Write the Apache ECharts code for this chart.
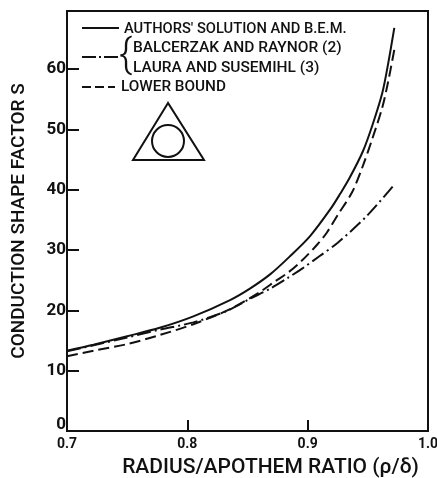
<!DOCTYPE html>
<html><head><meta charset="utf-8">
<style>html,body{margin:0;padding:0;background:#fff}#c{width:437px;height:478px}</style>
<script src="https://cdn.jsdelivr.net/npm/echarts@6/dist/echarts.min.js"></script>
</head><body><div id="c"></div>
<script>
const xTicks = [0.7, 0.8, 0.9, 1.0];
const yTicks = [0, 10, 20, 30, 40, 50, 60];
const solidX = [0.7, 0.722, 0.75, 0.777, 0.805, 0.8355, 0.852, 0.869, 0.885, 0.902, 0.919, 0.927, 0.935, 0.946, 0.954, 0.962, 0.967, 0.972];
const solidY = [13.3, 14.3, 15.7, 17.1, 19.0, 21.7, 23.6, 26.0, 28.9, 32.3, 36.8, 39.3, 42.0, 46.4, 50.8, 56.0, 61.0, 66.8];
const dashDotX = [0.7, 0.75, 0.777, 0.805, 0.833, 0.852, 0.869, 0.883, 0.896, 0.91, 0.925, 0.949, 0.971];
const dashDotY = [13.2, 15.5, 16.8, 18.0, 19.9, 21.9, 23.6, 25.3, 27.0, 29.0, 31.2, 35.6, 40.6];
const lowerX = [0.7, 0.722, 0.75, 0.777, 0.805, 0.8355, 0.86, 0.873, 0.884, 0.895, 0.908, 0.916, 0.925, 0.937, 0.946, 0.954, 0.962, 0.967, 0.972];
const lowerY = [12.4, 13.3, 14.4, 15.9, 17.7, 20.2, 23.0, 24.8, 26.3, 28.2, 30.9, 32.9, 35.8, 39.6, 44.0, 48.6, 53.6, 58.0, 63.2];
const legendNames = ["AUTHORS' SOLUTION AND B.E.M.", "BALCERZAK AND RAYNOR (2)", "LAURA AND SUSEMIHL (3)", "LOWER BOUND"];
const xTitle = "RADIUS/APOTHEM RATIO (\u03C1/\u03B4)";
const yTitle = "CONDUCTION SHAPE FACTOR S";

const ink = '#111';
const font = "Roboto,'Liberation Sans',sans-serif";
const zip = (a, b) => a.map((v, i) => [v, b[i]]);
const line = (name, xs, ys, type) => ({
  name, type: 'line', data: zip(xs, ys), smooth: 0.3, showSymbol: false, clip: false,
  lineStyle: { color: ink, width: 2, type }
});
const label = (text, x, y, size) => ({
  type: 'text', x, y,
  style: { text, fill: ink, font: `500 ${size}px ${font}`, textVerticalAlign: 'middle' }
});
const sample = (x1, x2, y, type) => ({
  type: 'line', shape: { x1, y1: y, x2, y2: y },
  style: { stroke: ink, lineWidth: 2, lineDash: type }
});

const chart = echarts.init(document.getElementById('c'), null, { renderer: 'canvas' });
chart.setOption({
  animation: false,
  backgroundColor: '#fff',
  grid: { left: 67, right: 9, top: 11, bottom: 47, outerBoundsMode: 'none', show: true, borderColor: ink, borderWidth: 2, backgroundColor: 'transparent' },
  xAxis: {
    type: 'value', min: 0.7, max: 1.0, interval: 0.1,
    name: xTitle, nameLocation: 'middle', nameGap: 26, nameMoveOverlap: false,
    nameTextStyle: { color: ink, fontFamily: font, fontSize: 21, fontWeight: 500, padding: [0, 0, 0, 46] },
    axisLine: { lineStyle: { color: ink, width: 2 } },
    axisTick: { inside: true, length: 11, lineStyle: { color: ink, width: 2 } },
    splitLine: { show: false },
    axisLabel: { customValues: xTicks, color: ink, fontFamily: font, fontSize: 14, fontWeight: 'bold', margin: 6,
      formatter: v => v.toFixed(1), hideOverlap: false }
  },
  yAxis: {
    type: 'value', min: 0, max: 69.6, interval: 10,
    name: yTitle, nameLocation: 'middle', nameGap: 38, nameRotate: 90, nameMoveOverlap: false,
    nameTextStyle: { color: ink, fontFamily: font, fontSize: 19, fontWeight: 500 },
    axisLine: { show: true, lineStyle: { color: ink, width: 2 } },
    axisTick: { inside: true, length: 12, customValues: yTicks, lineStyle: { color: ink, width: 2 } },
    splitLine: { show: false },
    axisLabel: { customValues: yTicks, color: ink, fontFamily: font, fontSize: 17, fontWeight: 'bold', margin: 1,
      formatter: v => v === 0 ? '{z|0}' : String(v),
      rich: { z: { fontFamily: font, fontSize: 17, fontWeight: 'bold', color: ink, padding: [0, 0, 12, 0] } } }
  },
  series: [
    line(legendNames[0], solidX, solidY, 'solid'),
    line(legendNames[1], dashDotX, dashDotY, [14, 4, 2, 4]),
    line(legendNames[3], lowerX, lowerY, [11, 5])
  ],
  graphic: [
    sample(82, 119, 28, null),
    sample(82, 118, 57, [14, 3, 2, 3]),
    sample(82, 115, 87, [9, 4]),
    label(legendNames[0], 124, 29, 14.7),
    label(legendNames[1], 133, 48, 15.5),
    label(legendNames[2], 133, 68, 15.5),
    label(legendNames[3], 121, 87, 15.3),
    { type: 'text', x: 119, y: 57, style: { text: '{', fill: ink, font: `300 40px ${font}`, textVerticalAlign: 'middle' } },
    { type: 'polygon', shape: { points: [[168, 103], [133, 160], [204, 160]] }, style: { fill: 'none', stroke: ink, lineWidth: 2 } },
    { type: 'circle', shape: { cx: 168, cy: 141, r: 16 }, style: { fill: 'none', stroke: ink, lineWidth: 2 } }
  ]
});
</script></body></html>
